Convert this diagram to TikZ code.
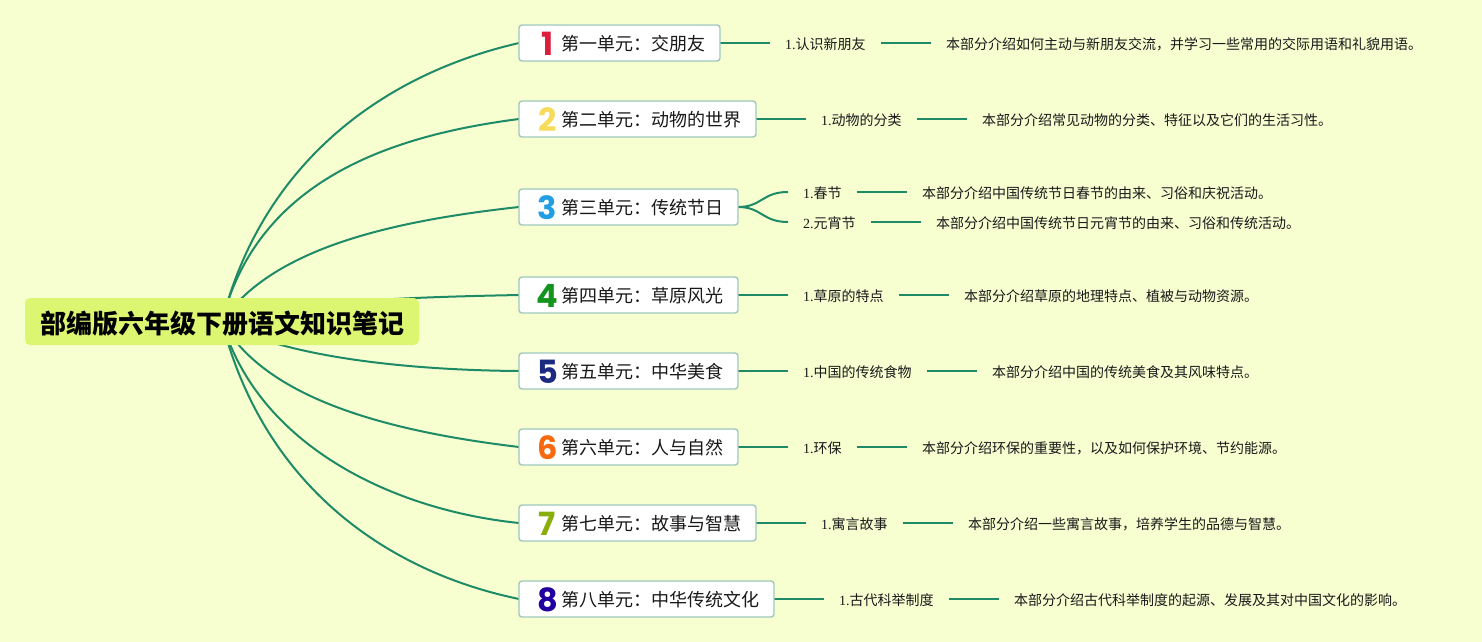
\documentclass[tikz,border=0pt]{standalone}
\usepackage{fontspec}
\usetikzlibrary{backgrounds,positioning}
\setmainfont{Liberation Serif}
\newfontfamily\cjk{Noto Sans CJK SC}
\newfontfamily\dgt{Poppins}
\definecolor{bgc}{HTML}{F7FFD1}
\definecolor{rootc}{HTML}{DCF672}
\definecolor{linec}{HTML}{1F8A66}
\definecolor{boxc}{HTML}{9FC8BC}
\definecolor{d1}{HTML}{DC1E3C}
\definecolor{d2}{HTML}{F6DC5A}
\definecolor{d3}{HTML}{229FE3}
\definecolor{d4}{HTML}{12941F}
\definecolor{d5}{HTML}{1C2A80}
\definecolor{d6}{HTML}{F7690F}
\definecolor{d7}{HTML}{8AAE0B}
\definecolor{d8}{HTML}{2200A0}
\newcommand{\dg}[2]{\makebox[27pt][c]{\raisebox{-4.5pt}{\fontsize{32}{32}\selectfont\dgt\bfseries\color{#1}#2}}}
\tikzset{
 x=1pt,y=-1pt,
 rootnode/.style={fill=rootc,rounded corners=5pt,minimum width=394pt,minimum height=47pt,inner sep=0pt,outer sep=0pt,text height=26pt,text depth=3pt,font=\fontsize{26}{26}\selectfont\cjk\bfseries},
 unitnode/.style={draw=boxc,line width=1.4pt,fill=white,rounded corners=3pt,minimum height=36pt,inner xsep=15pt,inner ysep=0pt,outer sep=0pt,text height=19pt,text depth=3.4pt,anchor=west,font=\fontsize{18}{18}\selectfont\cjk,text=black!90},
 subnode/.style={inner xsep=15pt,inner ysep=0pt,outer sep=0pt,text height=15pt,text depth=2.4pt,anchor=west,font=\fontsize{14}{14}\selectfont,text=black!90},
 link/.style={draw=linec,line width=2pt},
}
\newcommand{\st}[1]{{\cjk #1}}
\begin{document}
\begin{tikzpicture}
\useasboundingbox (0,0) rectangle (1482,642);
\node[rootnode] (root) at (222,321.5) {部编版六年级下册语文知识笔记};
\node[unitnode] (u1) at (519,43) {\dg{d1}{1}第一单元：交朋友};
\node[unitnode] (u2) at (519,119) {\dg{d2}{2}第二单元：动物的世界};
\node[unitnode] (u3) at (519,207) {\dg{d3}{3}第三单元：传统节日};
\node[unitnode] (u4) at (519,295) {\dg{d4}{4}第四单元：草原风光};
\node[unitnode] (u5) at (519,371) {\dg{d5}{5}第五单元：中华美食};
\node[unitnode] (u6) at (519,447) {\dg{d6}{6}第六单元：人与自然};
\node[unitnode] (u7) at (519,523) {\dg{d7}{7}第七单元：故事与智慧};
\node[unitnode] (u8) at (519,599) {\dg{d8}{8}第八单元：中华传统文化};
\node[subnode,right=50pt of u1.east,anchor=west] (s1) {1.\st{认识新朋友}};
\node[subnode,right=50.5pt of s1.east,anchor=west] (t1) {\st{本部分介绍如何主动与新朋友交流，并学习一些常用的交际用语和礼貌用语。}};
\node[subnode,right=50pt of u2.east,anchor=west] (s2) {1.\st{动物的分类}};
\node[subnode,right=50.5pt of s2.east,anchor=west] (t2) {\st{本部分介绍常见动物的分类、特征以及它们的生活习性。}};
\node[subnode,anchor=west] (s3a) at (788,192) {1.\st{春节}};
\node[subnode,right=50.5pt of s3a.east,anchor=west] (t3a) {\st{本部分介绍中国传统节日春节的由来、习俗和庆祝活动。}};
\node[subnode,anchor=west] (s3b) at (788,222) {2.\st{元宵节}};
\node[subnode,right=50.5pt of s3b.east,anchor=west] (t3b) {\st{本部分介绍中国传统节日元宵节的由来、习俗和传统活动。}};
\node[subnode,right=50pt of u4.east,anchor=west] (s4) {1.\st{草原的特点}};
\node[subnode,right=50.5pt of s4.east,anchor=west] (t4) {\st{本部分介绍草原的地理特点、植被与动物资源。}};
\node[subnode,right=50pt of u5.east,anchor=west] (s5) {1.\st{中国的传统食物}};
\node[subnode,right=50.5pt of s5.east,anchor=west] (t5) {\st{本部分介绍中国的传统美食及其风味特点。}};
\node[subnode,right=50pt of u6.east,anchor=west] (s6) {1.\st{环保}};
\node[subnode,right=50.5pt of s6.east,anchor=west] (t6) {\st{本部分介绍环保的重要性，以及如何保护环境、节约能源。}};
\node[subnode,right=50pt of u7.east,anchor=west] (s7) {1.\st{寓言故事}};
\node[subnode,right=50.5pt of s7.east,anchor=west] (t7) {\st{本部分介绍一些寓言故事，培养学生的品德与智慧。}};
\node[subnode,right=50pt of u8.east,anchor=west] (s8) {1.\st{古代科举制度}};
\node[subnode,right=50.5pt of s8.east,anchor=west] (t8) {\st{本部分介绍古代科举制度的起源、发展及其对中国文化的影响。}};
\begin{scope}[on background layer]
\fill[bgc] (0,0) rectangle (1482,642);
\draw[link] (root.center) .. controls (262,165) and (380,75) .. (u1.west);
\draw[link] (root.center) .. controls (258,178) and (395,135) .. (u2.west);
\draw[link] (root.center) .. controls (272,248) and (392,221) .. (u3.west);
\draw[link] (root.center) .. controls (300,300) and (420,297) .. (u4.west);
\draw[link] (root.center) .. controls (272,352) and (385,370) .. (u5.west);
\draw[link] (root.center) .. controls (265,398) and (385,431) .. (u6.west);
\draw[link] (root.center) .. controls (258,445) and (392,510) .. (u7.west);
\draw[link] (root.center) .. controls (262,480) and (380,570) .. (u8.west);
\draw[link] (u1.east) -- (s1.west);
\draw[link] (s1.east) -- (t1.west);
\draw[link] (u2.east) -- (s2.west);
\draw[link] (s2.east) -- (t2.west);
\draw[link] (u3.east) .. controls (762,207) and (762,192) .. (s3a.west);
\draw[link] (u3.east) .. controls (762,207) and (762,222) .. (s3b.west);
\draw[link] (s3a.east) -- (t3a.west);
\draw[link] (s3b.east) -- (t3b.west);
\draw[link] (u4.east) -- (s4.west);
\draw[link] (s4.east) -- (t4.west);
\draw[link] (u5.east) -- (s5.west);
\draw[link] (s5.east) -- (t5.west);
\draw[link] (u6.east) -- (s6.west);
\draw[link] (s6.east) -- (t6.west);
\draw[link] (u7.east) -- (s7.west);
\draw[link] (s7.east) -- (t7.west);
\draw[link] (u8.east) -- (s8.west);
\draw[link] (s8.east) -- (t8.west);
\end{scope}
\end{tikzpicture}
\end{document}
